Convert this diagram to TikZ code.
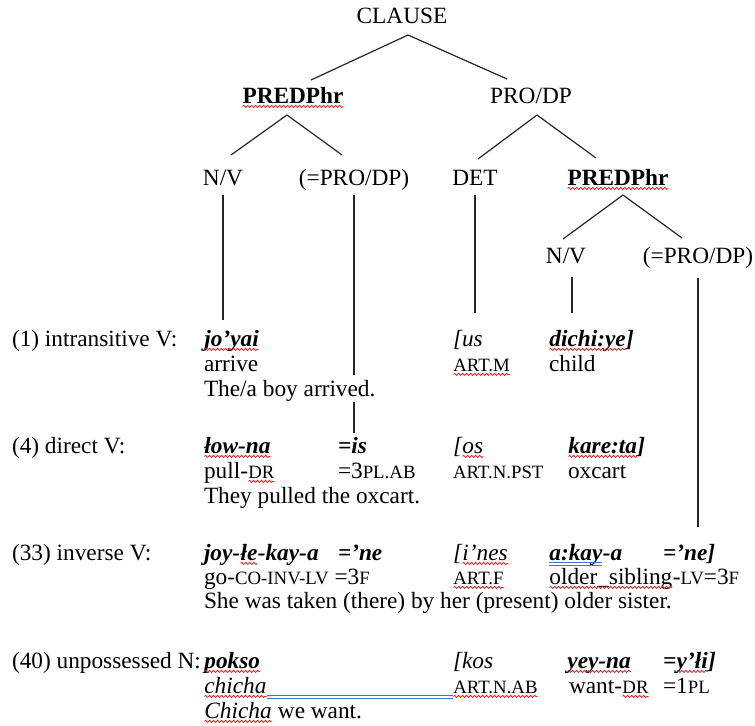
\documentclass[tikz,border=0pt]{standalone}
\usepackage{fontspec}
\setmainfont{Liberation Serif}
\usepackage{xcolor}
\usepackage{tikz}
\usetikzlibrary{
    calc,
    decorations.pathmorphing
}
\definecolor{spellRed}{RGB}{230, 30, 30}
\definecolor{gramBlue}{RGB}{70, 110, 215}
% wavy red mark (spelling) and blue double mark (grammar)
\newcommand\spellwave[1]{\tikz[baseline=(sw.base)]{%
    \node[inner sep=0pt, outer sep=0pt, anchor=base] (sw) {#1};%
    \draw[spellRed, line width=0.4pt, decorate,
        decoration={snake, amplitude=0.55pt, segment length=2pt}]
        ([yshift=-1.7pt]sw.base west) -- ([yshift=-1.7pt]sw.base east);}}
\newcommand\gramline[1]{\tikz[baseline=(gm.base)]{%
    \node[inner sep=0pt, outer sep=0pt, anchor=base] (gm) {#1};%
    \draw[gramBlue, line width=0.4pt]
        ([yshift=-1.4pt]gm.base west) -- ([yshift=-1.4pt]gm.base east)
        ([yshift=-2.5pt]gm.base west) -- ([yshift=-2.5pt]gm.base east);}}
\newcommand\mainsize{\fontsize{11.65}{14}\selectfont}
% small capitals of the glosses
\newcommand\gl[1]{{\fontsize{9.4}{11}\selectfont #1}}
\tikzset{
    % tree labels
    cat/.style={
        inner sep=0pt,
        outer sep=0pt,
        anchor=base,
        text height=7.75pt,
        text depth=0pt,
        font=\mainsize
    },
    % words of the examples
    word/.style={
        inner sep=0pt,
        outer sep=0pt,
        anchor=base west,
        text height=7.75pt,
        text depth=0pt,
        font=\mainsize
    },
    obj/.style={word, font=\mainsize\bfseries\itshape},
    det/.style={word, font=\mainsize\itshape},
    % lines of the tree
    branch/.style={line width=0.6pt, color=black!85},
    stem/.style={branch, shorten <=5pt, shorten >=8.75pt},
    % blue mark
    gram/.style={gramBlue, line width=0.45pt}
}

\begin{document}
\begin{tikzpicture}[x=0.5pt, y=-0.5pt]
    \useasboundingbox (0,0) rectangle (755,725);

    % [1] tree
    \node[cat] (clause) at (402,23) {CLAUSE};
    \node[cat, font=\mainsize\bfseries] (predl) at (293,103) {\spellwave{PREDPhr}};
    \node[cat] (prodp) at (531,103) {PRO/DP};
    \node[cat] (nv1) at (223,185) {N/V};
    \node[cat] (pro1) at (354,185) {(=PRO/DP)};
    \node[cat] (det) at (475,185) {DET};
    \node[cat, font=\mainsize\bfseries] (predr) at (618,185) {\spellwave{PREDPhr}};
    \node[cat] (nv2) at (566,263) {N/V};
    \node[cat] (pro2) at (698,263) {(=PRO/DP)};

    \draw[branch] ($(predl.north)+(18,-7.5)$) -- ($(clause.south)+(6,12)$) -- ($(prodp.north)+(-24,-8.5)$);
    \draw[branch] ($(nv1.north)+(8,-14.5)$) -- ($(predl.south)+(-6,12)$) -- ($(pro1.north)+(-12,-14.5)$);
    \draw[branch] ($(det.north)+(3,-10.5)$) -- ($(prodp.south)+(6,12)$) -- ($(predr.north)+(-22,-11.5)$);
    \draw[branch] ($(nv2.north)+(-3,-8.5)$) -- ($(predr.south)+(5,10)$) -- ($(pro2.north)+(-16,-9.5)$);

    % [2] (1) intransitive V
    \node[word] (r1lab) at (12,346) {(1) intransitive V:};
    \node[obj] (r1v) at (204,346) {\spellwave{jo’yai}};
    \node[word] (r1vg) at (204,371) {arrive};
    \node[det] (r1det) at (453,346) {[us};
    \node[word] (r1detg) at (453,371) {\spellwave{\gl{ART.M}}};
    \node[obj] (r1n) at (549,346) {\spellwave{dichi:ye}]};
    \node[word] (r1ng) at (549,371) {child};

    % [3] (4) direct V
    \node[word] (r2lab) at (12,453) {(4) direct V:};
    \node[obj] (r2v) at (204,453) {\spellwave{łow-na}};
    \node[obj] (r2cl) at (338,453) {=is};
    \node[word] (r2vg) at (204,478) {pull-\spellwave{\gl{DR}}};
    \node[word] (r2clg) at (338,478) {=3\gl{PL.AB}};
    \node[word] (r2tr) at (204,503) {They pulled the oxcart.};
    \node[det] (r2det) at (453,453) {[\spellwave{os}};
    \node[word] (r2detg) at (453,478) {\gl{ART.N.PST}};
    \node[obj] (r2n) at (568,453) {\spellwave{kare:ta}]};
    \node[word] (r2ng) at (568,478) {oxcart};

    % [4] (33) inverse V
    \node[word] (r3lab) at (12,560) {(33) inverse V:};
    \node[obj] (r3v) at (204,560) {joy-\spellwave{łe}-kay-a};
    \node[obj] (r3cl) at (338,560) {=’ne};
    \node[word] (r3vg) at (204,584) {go-\gl{CO-INV-LV} =3\gl{F}};
    \node[word] (r3tr) at (204,608) {She was taken (there) by her (present) older sister.};
    \node[det] (r3det) at (453,560) {[\spellwave{i’nes}};
    \node[word] (r3detg) at (453,584) {\spellwave{\gl{ART.F}}};
    \node[obj] (r3n) at (549,560) {\gramline{a:kay}-a};
    \node[word] (r3ng) at (549,584) {\spellwave{older\_sibling}-\gl{LV}=3\gl{F}};
    \node[obj] (r3cl2) at (663,560) {=’ne]};

    % [5] (40) unpossessed N
    \node[word] (r4lab) at (12,668) {(40) unpossessed N:};
    \node[obj] (r4v) at (204,668) {\spellwave{pokso}};
    \node[det] (r4vg) at (204,693) {\spellwave{chicha}};
    \node[word] (r4tr) at (204,718) {\textit{\spellwave{Chicha}} we want.};
    \node[det] (r4det) at (453,668) {[kos};
    \node[word] (r4detg) at (453,693) {\spellwave{\gl{ART.N.AB}}};
    \node[obj] (r4n) at (567,668) {\spellwave{yey-na}};
    \node[word] (r4ng) at (569,693) {want-\spellwave{\gl{DR}}};
    \node[obj] (r4cl) at (663,668) {=\spellwave{y’łi}]};
    \node[word] (r4clg) at (663,693) {=1\gl{PL}};

    % stems from the tree down to the words
    \draw[stem, shorten >=5.25pt] (nv1.south) -- (nv1.south |- r1v.north);
    \draw[stem, shorten >=2.25pt] (pro1.south) -- (pro1.south |- r2cl.north);
    \draw[stem] (det.south) -- (det.south |- r1det.north);
    \draw[stem, shorten <=7pt] ([xshift=3pt]nv2.south) -- ([xshift=3pt]nv2.south |- r1n.north);
    \draw[stem, shorten <=7.5pt] (pro2.south) -- (pro2.south |- r3cl2.north);

    % drawn last: its white box cuts the stem of (=PRO/DP)
    \node[word, fill=white, inner ysep=3pt] (r1tr) at (204,396) {The/a boy arrived.};

    % grammar mark between chicha and ART.N.AB
    \draw[gram] ($(r4vg.base east)+(0,2.8)$) -- ($(r4detg.base west)+(0,2.8)$);
    \draw[gram] ($(r4vg.base east)+(0,5)$) -- ($(r4detg.base west)+(0,5)$);

\end{tikzpicture}
\end{document}
